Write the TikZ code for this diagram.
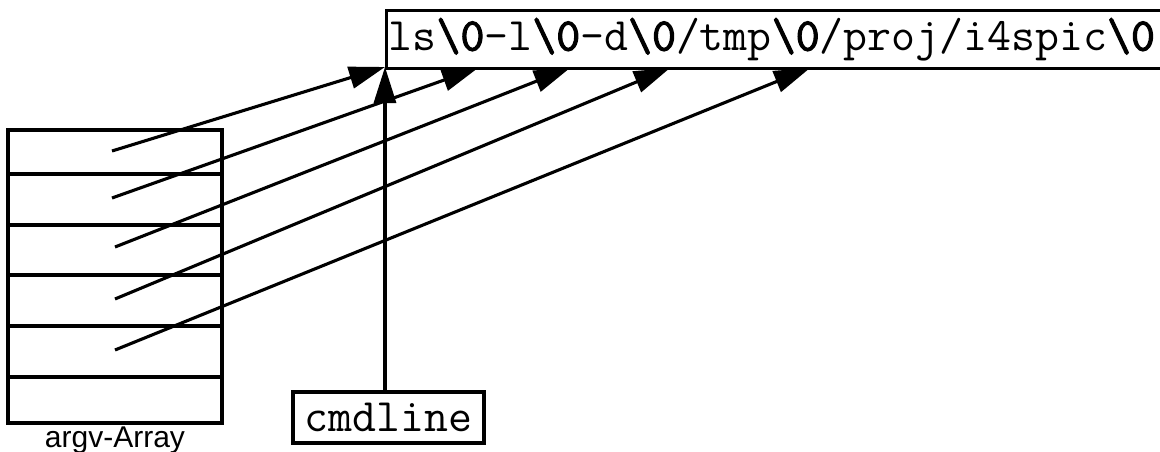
\documentclass[tikz,border=0pt]{standalone}
\usepackage{fontspec}
\setmainfont{Liberation Sans}
\newfontfamily\monobold{Latin Modern Mono}[FakeBold=2.5]
\usetikzlibrary{arrows.meta}
\newcommand{\nul}{{\monobold\textbackslash 0}}
\begin{document}
\begin{tikzpicture}[x=1pt,y=-1pt,
  line width=3.3pt,
  arr/.style={-{Triangle[length=36pt,width=22pt]}, line width=3.1pt},
  strbox/.style={draw, rectangle, inner sep=0pt, anchor=north west, minimum height=58pt, minimum width=790pt},
  strtext/.style={anchor=west, inner sep=0pt, font=\fontsize{46.5}{50}\ttfamily},
  cmdbox/.style={draw, rectangle, inner sep=0pt, minimum width=191pt, minimum height=51pt, font=\fontsize{46.5}{50}\ttfamily},
  cell/.style={draw, rectangle, inner sep=0pt, minimum width=214pt},
  lbl/.style={font=\fontsize{30}{32}\selectfont, inner sep=0pt}
]
\clip (0,0) rectangle (1160,452);
\useasboundingbox (0,0) rectangle (1160,452);
% top string box
\node[strbox] (str) at (385,9) {};
\node[strtext] (strt) at ([xshift=2pt]str.west) {ls\nul-l\nul-d\nul/tmp\nul/proj/i4spic\nul};
% argv array cells
\node[cell, minimum height=44pt] (c1) at (115,152) {};
\node[cell, minimum height=51pt] (c2) at (115,199.5) {};
\node[cell, minimum height=50pt] (c3) at (115,250) {};
\node[cell, minimum height=51pt] (c4) at (115,300.5) {};
\node[cell, minimum height=51pt] (c5) at (115,351.5) {};
\node[cell, minimum height=46pt] (c6) at (115,400) {};
\node[lbl] (argvlbl) at (115,440) {argv-Array};
% cmdline
\node[cmdbox] (cmd) at (388.5,417.5) {cmdline};
% targets
\coordinate (t1) at (385,67);
\coordinate (t2) at (478,68);
\coordinate (t3) at (570,68);
\coordinate (t4) at (670,68);
\coordinate (t5) at (810,68);
\coordinate (s1) at (112,151);
\coordinate (s2) at (112,198);
\coordinate (s3) at (115,247);
\coordinate (s4) at (115,299);
\coordinate (s5) at (115,350);
\draw[arr] (s1) -- (t1);
\draw[arr] (s2) -- (t2);
\draw[arr] (s3) -- (t3);
\draw[arr] (s4) -- (t4);
\draw[arr] (s5) -- (t5);
\draw[arr] (cmd.north -| t1) -- (t1);
\end{tikzpicture}
\end{document}
